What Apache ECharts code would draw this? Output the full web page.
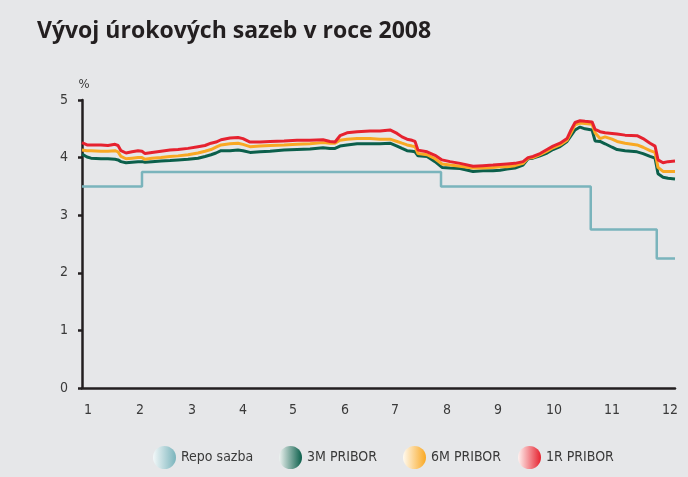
<!DOCTYPE html>
<html>
<head>
<meta charset="utf-8">
<script src="https://cdn.jsdelivr.net/npm/echarts@6/dist/echarts.min.js"></script>
<style>
html,body{margin:0;padding:0;background:#e6e7e9;}
#c{width:688px;height:477px;}
</style>
</head>
<body>
<div id="c"></div>
<script>
// x positions in month units (axis scale)
const t = [0.887,0.982,1.057,1.246,1.378,1.511,1.568,1.624,1.719,1.832,1.946,2.021,2.078,2.210,2.380,2.551,2.702,2.891,3.080,3.212,3.326,3.420,3.515,3.685,3.836,3.930,4.063,4.252,4.441,4.706,4.951,5.197,5.443,5.575,5.670,5.764,5.897,6.086,6.331,6.520,6.709,6.842,6.936,7.031,7.125,7.182,7.238,7.409,7.560,7.692,7.844,8.033,8.278,8.467,8.656,8.789,8.921,9.072,9.223,9.318,9.412,9.545,9.677,9.790,9.923,10.055,10.131,10.207,10.301,10.395,10.528,10.585,10.679,10.774,10.906,11.001,11.152,11.379,11.492,11.624,11.719,11.775,11.870,11.964,12.096];
const pribor1R = [4.26,4.22,4.22,4.22,4.21,4.23,4.21,4.12,4.08,4.10,4.12,4.11,4.07,4.09,4.11,4.13,4.14,4.16,4.19,4.21,4.25,4.27,4.31,4.34,4.35,4.33,4.27,4.27,4.28,4.29,4.30,4.30,4.31,4.28,4.27,4.38,4.43,4.45,4.46,4.46,4.48,4.42,4.36,4.32,4.30,4.28,4.13,4.10,4.04,3.96,3.93,3.90,3.85,3.86,3.87,3.88,3.89,3.90,3.93,4.00,4.02,4.07,4.14,4.20,4.25,4.33,4.48,4.61,4.64,4.63,4.62,4.49,4.45,4.43,4.42,4.41,4.39,4.38,4.33,4.25,4.20,3.96,3.91,3.93,3.94];
const pribor6M = [4.13,4.12,4.12,4.11,4.11,4.12,4.10,4.02,3.98,3.99,4.00,4.00,3.97,3.99,4.00,4.02,4.03,4.05,4.08,4.11,4.14,4.18,4.22,4.24,4.25,4.23,4.19,4.20,4.21,4.22,4.23,4.24,4.26,4.25,4.25,4.30,4.32,4.33,4.33,4.32,4.32,4.28,4.25,4.22,4.20,4.19,4.07,4.05,3.98,3.89,3.87,3.85,3.82,3.82,3.83,3.84,3.84,3.86,3.90,3.99,4.00,4.05,4.11,4.17,4.22,4.30,4.43,4.57,4.60,4.59,4.58,4.43,4.33,4.36,4.32,4.28,4.25,4.22,4.18,4.12,4.09,3.83,3.76,3.76,3.76];
const pribor3M = [4.06,4.01,3.99,3.98,3.98,3.97,3.96,3.93,3.91,3.92,3.93,3.93,3.92,3.93,3.94,3.95,3.96,3.97,3.99,4.02,4.05,4.08,4.12,4.12,4.13,4.12,4.09,4.10,4.11,4.13,4.14,4.15,4.17,4.16,4.16,4.20,4.22,4.24,4.24,4.24,4.25,4.20,4.16,4.12,4.11,4.10,4.03,4.02,3.93,3.83,3.82,3.81,3.76,3.77,3.77,3.78,3.80,3.82,3.87,3.98,3.99,4.03,4.08,4.14,4.19,4.28,4.38,4.48,4.53,4.50,4.48,4.29,4.28,4.24,4.18,4.14,4.12,4.10,4.07,4.02,3.99,3.72,3.66,3.64,3.63];
const repoT = [0.887,2.021,7.673,10.503,11.751,12.096];
const repoV = [3.5,3.75,3.5,2.75,2.25,2.25];
const monthLabels = ['1','2','3','4','5','6','7','8','9','10','11','12'];
const monthLabelPos = [1.0,1.983,2.966,3.930,4.876,5.859,6.804,7.787,8.751,9.810,10.906,12.0];
const yTicks = [0,1,2,3,4,5];
const seriesNames = ['Repo sazba','3M PRIBOR','6M PRIBOR','1R PRIBOR'];

const colors = ['#7ab4bc','#0b5f4b','#f9a823','#e6222f'];
const lights = ['#f3f8f9','#eef3f1','#fffaf0','#fff2f0'];
const legendLeft = [148,274,398,513];
const pair = (xs, ys) => xs.map((x, i) => [x, ys[i]]);
const grad = (i) => ({type:'linear',x:0,y:0,x2:1,y2:0,colorStops:[{offset:0,color:lights[i]},{offset:1,color:colors[i]}]});
const font = '"Liberation Sans Narrow","DejaVu Sans Condensed",Arial,sans-serif';

const chart = echarts.init(document.getElementById('c'), null, {renderer:'canvas'});
chart.setOption({
  backgroundColor:'#e6e7e9',
  animation:false,
  title:{text:'Vývoj úrokových sazeb v roce 2008',left:32,top:15,
    textStyle:{fontFamily:'"Open Sans",sans-serif',fontWeight:'bold',fontSize:23,color:'#231f20'}},
  grid:{left:82,right:13,top:100,bottom:89,containLabel:false},
  legend:seriesNames.map((n,i)=>({left:legendLeft[i],top:441,icon:'circle',itemWidth:23,itemHeight:23,
    textStyle:{fontFamily:font,fontSize:14,color:'#3a3a3a'},
    data:[{name:n,itemStyle:{color:grad(i),borderWidth:0}}]})),
  xAxis:{type:'value',min:0.887,max:12.096,
    axisLine:{show:true,onZero:false,lineStyle:{color:'#231f20',width:2.5}},
    axisTick:{show:false},splitLine:{show:false},
    axisLabel:{customValues:monthLabelPos,margin:15,fontFamily:font,fontSize:14,color:'#3a3a3a',
      formatter:(v)=>{let b=0;monthLabelPos.forEach((p,i)=>{if(Math.abs(p-v)<Math.abs(monthLabelPos[b]-v))b=i;});return monthLabels[b];}}},
  yAxis:{type:'value',min:yTicks[0],max:yTicks[yTicks.length-1],interval:1,
    name:'%',nameLocation:'end',nameGap:9,nameTextStyle:{fontFamily:font,fontSize:13,color:'#3a3a3a',align:'center',padding:[0,0,0,4]},
    axisLine:{show:true,lineStyle:{color:'#231f20',width:2.5}},
    axisTick:{show:true,inside:false,length:4,lineStyle:{color:'#231f20',width:2.5}},
    splitLine:{show:false},
    axisLabel:{margin:14,fontFamily:font,fontSize:14,color:'#3a3a3a'}},
  series:[
    {name:seriesNames[0],type:'line',step:'end',showSymbol:false,data:pair(repoT,repoV),
      lineStyle:{color:colors[0],width:2.5},itemStyle:{color:colors[0]}},
    {name:seriesNames[1],type:'line',showSymbol:false,data:pair(t,pribor3M),
      lineStyle:{color:colors[1],width:3},itemStyle:{color:colors[1]}},
    {name:seriesNames[2],type:'line',showSymbol:false,data:pair(t,pribor6M),
      lineStyle:{color:colors[2],width:3},itemStyle:{color:colors[2]}},
    {name:seriesNames[3],type:'line',showSymbol:false,data:pair(t,pribor1R),
      lineStyle:{color:colors[3],width:3},itemStyle:{color:colors[3]}}
  ]
});
</script>
</body>
</html>
